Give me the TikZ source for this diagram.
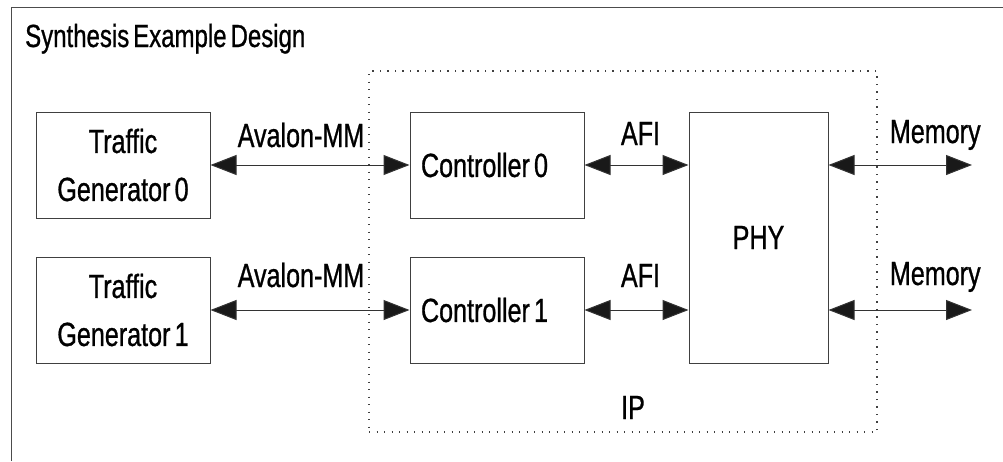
\documentclass[tikz,border=0pt]{standalone}
\usepackage{fontspec}
\setmainfont[FakeStretch=0.75, FakeBold=0.8, WordSpace=0.6]{Liberation Sans}
\usetikzlibrary{arrows.meta}
\usetikzlibrary{positioning}
\tikzset{
  blk/.style={rectangle, minimum width=174pt, minimum height=106pt, draw=black!75, line width=1pt, inner sep=0pt, align=center, font=\fontsize{33.5}{48}\selectfont},
  ctl/.style={blk, text width=152pt, inner xsep=11pt, align=flush left},
  phyb/.style={blk, minimum width=139pt, minimum height=251pt},
  ipbox/.style={rectangle, draw=black!75, line width=1.2pt, dash pattern=on 1.2pt off 6.3pt, minimum width=508pt, minimum height=361pt, inner sep=0pt},
  frame/.style={draw=black!70, line width=1pt},
  bus/.style={draw=black!80, line width=1pt, {Triangle[length=26pt,width=20pt,fill=black!90]}-{Triangle[length=26pt,width=20pt,fill=black!90]}},
  lbl/.style={font=\fontsize{33.5}{40}\selectfont, anchor=base, inner sep=0pt}
}
\begin{document}
\begin{tikzpicture}[x=1pt, y=-1pt]
\useasboundingbox (0,0) rectangle (1003,461);
\draw[frame] (11,461) -- (11,7) -- (1003,7);
\node[lbl, anchor=base west, font=\fontsize{32}{36}\selectfont] (title) at (25,47) {Synthesis Example Design};

\node[ipbox] (ip) at (623,251.5) {};
\node[lbl] (iplbl) at (633,419) {IP};

\node[blk] (tg0) at (123,165) {Traffic\\Generator 0};
\node[blk] (tg1) at (123,310) {Traffic\\Generator 1};
\node[ctl] (ctl0) at (497,165) {Controller 0};
\node[ctl] (ctl1) at (497,310) {Controller 1};
\node[phyb] (phy) at (758.5,237.5) {PHY};
\coordinate (mem0) at (972,165);
\coordinate (mem1) at (972,310);

%
\draw[bus] (tg0) -- node[lbl, yshift=18pt, xshift=-9pt] {Avalon-MM} (ctl0);
\draw[bus] (tg1) -- node[lbl, yshift=23pt, xshift=-9pt] {Avalon-MM} (ctl1);
\draw[bus] (ctl0) -- node[lbl, yshift=20pt, xshift=4pt] {AFI} (phy.west |- ctl0);
\draw[bus] (ctl1) -- node[lbl, yshift=23pt, xshift=4pt] {AFI} (phy.west |- ctl1);
\draw[bus] (phy.east |- mem0) -- node[lbl, yshift=22pt, xshift=35pt] {Memory} (mem0);
\draw[bus] (phy.east |- mem1) -- node[lbl, yshift=25pt, xshift=35pt] {Memory} (mem1);
\end{tikzpicture}
\end{document}
